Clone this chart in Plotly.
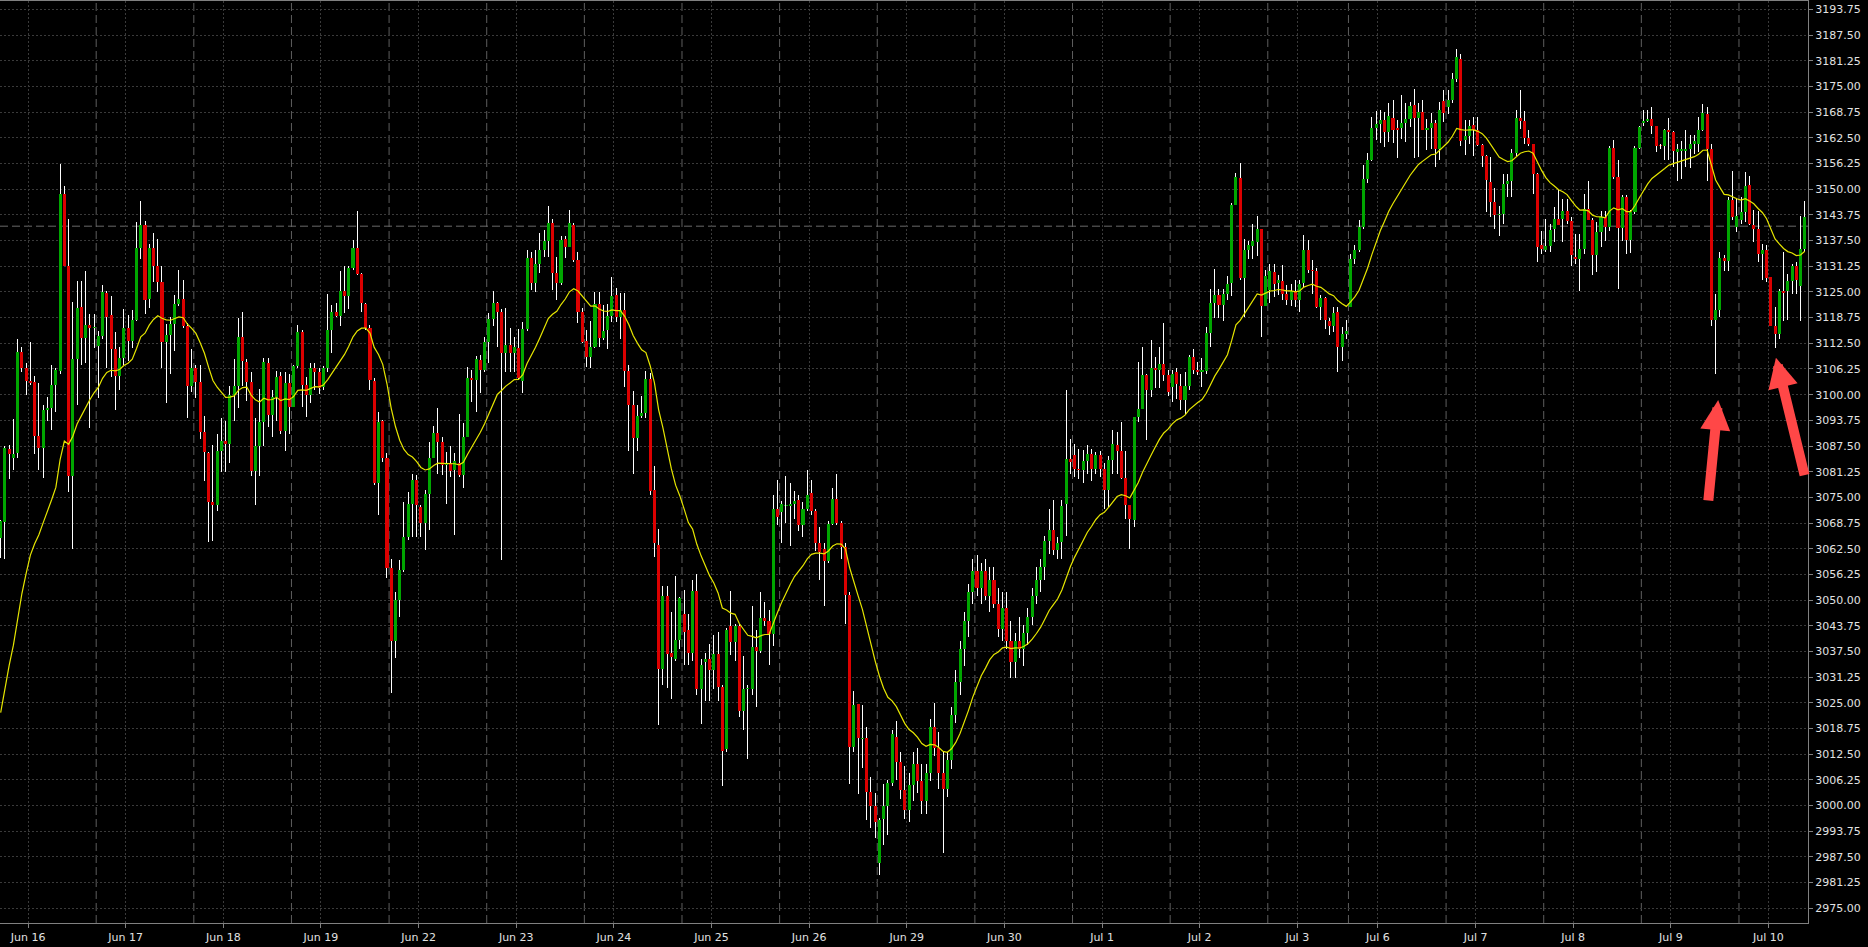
import plotly.graph_objects as go

# ---------------- data (hourly candles, 23 per regular session) ----------------
day_labels = ["Jun 16", "Jun 17", "Jun 18", "Jun 19", "Jun 22", "Jun 23", "Jun 24",
              "Jun 25", "Jun 26", "Jun 29", "Jun 30", "Jul 1", "Jul 2", "Jul 3",
              "Jul 6", "Jul 7", "Jul 8", "Jul 9", "Jul 10"]
day_sizes = [23] * 13 + [19] + [23] * 4 + [16]

opens = [
    # Jun 16
    3065.2, 3069.0, 3086.7, 3084.7, 3085.9, 3110.4, 3106.4, 3103.3, 3103.0, 3090.0, 3086.9, 3096.2,
    3096.7, 3102.4, 3105.8, 3148.8, 3131.4, 3080.3, 3108.6, 3121.3, 3113.7, 3117.0, 3116.2,
    # Jun 17
    3111.9, 3114.2, 3124.8, 3119.5, 3111.0, 3104.6, 3108.9, 3116.3, 3113.1, 3118.1, 3135.7, 3141.3,
    3123.3, 3135.7, 3131.4, 3127.5, 3112.9, 3114.6, 3117.2, 3122.0, 3123.3, 3116.8, 3102.0,
    # Jun 18
    3106.6, 3103.2, 3090.9, 3085.9, 3073.8, 3073.2, 3086.2, 3088.7, 3088.0, 3100.0, 3102.2, 3114.0,
    3108.0, 3103.0, 3081.4, 3087.6, 3093.3, 3107.7, 3095.1, 3099.5, 3104.5, 3091.1, 3102.9,
    # Jun 19
    3096.9, 3106.9, 3115.3, 3102.3, 3099.9, 3106.4, 3105.6, 3101.9, 3106.4, 3115.7, 3120.2, 3119.2,
    3125.2, 3124.0, 3130.8, 3135.6, 3129.3, 3122.1, 3116.2, 3103.4, 3078.4, 3093.6, 3084.7,
    # Jun 22
    3057.7, 3040.0, 3050.0, 3057.3, 3065.4, 3073.5, 3079.2, 3072.7, 3068.8, 3075.8, 3084.5, 3090.6,
    3088.4, 3082.9, 3083.3, 3081.7, 3083.4, 3080.4, 3089.6, 3104.0, 3103.6, 3108.4, 3106.0,
    # Jun 23
    3112.7, 3118.3, 3122.4, 3120.2, 3110.2, 3112.1, 3110.2, 3111.3, 3103.4, 3115.9, 3133.2, 3127.1,
    3131.8, 3135.2, 3137.5, 3141.7, 3129.5, 3127.1, 3137.8, 3136.0, 3141.3, 3132.8, 3120.0,
    # Jun 24
    3113.1, 3109.1, 3111.5, 3122.1, 3113.7, 3115.7, 3119.2, 3124.3, 3118.9, 3120.7, 3105.8, 3097.6,
    3089.4, 3094.9, 3095.5, 3103.9, 3076.9, 3063.5, 3033.2, 3051.0, 3037.2, 3035.6, 3040.4,
    # Jun 25
    3046.6, 3042.8, 3037.2, 3052.2, 3028.4, 3034.9, 3035.6, 3033.0, 3037.0, 3028.9, 3013.7, 3043.8,
    3039.7, 3043.8, 3023.1, 3028.3, 3028.4, 3038.5, 3037.5, 3045.7, 3044.9, 3041.8, 3072.1,
    # Jun 26
    3071.4, 3072.8, 3072.8, 3073.4, 3074.3, 3068.3, 3072.1, 3076.0, 3071.8, 3064.0, 3062.5, 3059.4,
    3068.6, 3074.7, 3068.8, 3063.0, 3051.3, 3014.2, 3024.7, 3016.1, 3016.4, 3003.2, 3000.0,
    # Jun 29
    2986.1, 2996.7, 3000.0, 3005.5, 3016.8, 3010.6, 3003.9, 2999.0, 3005.0, 3010.0, 3006.0, 3001.0,
    3008.0, 3019.0, 3014.0, 3008.0, 3004.0, 3011.0, 3022.0, 3030.0, 3038.0, 3045.0, 3052.0,
    # Jun 30
    3057.0, 3053.0, 3057.0, 3051.0, 3055.0, 3049.0, 3043.0, 3048.0, 3040.0, 3035.0, 3040.0, 3038.0,
    3042.0, 3046.0, 3051.0, 3055.0, 3058.0, 3064.5, 3067.1, 3062.3, 3064.1, 3073.4, 3084.4,
    # Jul 1
    3085.2, 3082.0, 3081.6, 3083.8, 3085.5, 3082.0, 3085.2, 3082.0, 3076.7, 3084.2, 3087.7, 3086.3,
    3079.8, 3073.1, 3069.6, 3094.6, 3096.6, 3104.9, 3101.2, 3106.5, 3106.1, 3107.5, 3104.9,
    # Jul 2
    3101.9, 3105.4, 3102.0, 3098.6, 3102.0, 3109.2, 3106.1, 3105.5, 3105.8, 3114.9, 3122.2, 3124.2,
    3121.8, 3124.6, 3127.2, 3146.1, 3152.8, 3128.5, 3135.3, 3136.1, 3137.2, 3140.2, 3121.5,
    # Jul 3 (short session)
    3125.4, 3129.9, 3127.2, 3127.7, 3124.4, 3123.1, 3125.2, 3123.1, 3127.2, 3135.1, 3130.4, 3130.1,
    3121.4, 3123.6, 3117.9, 3116.6, 3120.1, 3111.6, 3114.7,
    # Jul 6
    3121.4, 3133.1, 3135.1, 3140.7, 3152.6, 3157.2, 3165.0, 3165.8, 3166.8, 3164.0, 3167.4, 3165.0,
    3165.0, 3166.0, 3167.2, 3170.4, 3167.4, 3168.8, 3164.4, 3164.8, 3166.0, 3159.7, 3171.5,
    # Jul 7
    3170.1, 3171.8, 3176.9, 3181.8, 3161.9, 3162.9, 3165.6, 3164.5, 3160.7, 3158.0, 3151.8, 3146.9,
    3143.7, 3143.9, 3151.3, 3151.9, 3158.8, 3167.4, 3166.6, 3162.5, 3160.9, 3153.7, 3136.3,
    # Jul 8
    3135.3, 3136.1, 3140.3, 3142.8, 3142.8, 3144.8, 3142.2, 3133.6, 3133.0, 3135.5, 3145.2, 3142.5,
    3133.9, 3139.5, 3143.2, 3140.9, 3160.1, 3152.9, 3140.6, 3148.0, 3137.7, 3144.4, 3160.1,
    # Jul 9
    3166.1, 3166.5, 3167.1, 3165.3, 3160.6, 3160.6, 3164.3, 3163.9, 3159.0, 3159.4, 3159.4, 3159.8,
    3161.0, 3161.0, 3164.3, 3168.2, 3159.8, 3118.2, 3120.6, 3133.3, 3132.6, 3147.4, 3140.8,
    # Jul 10
    3142.4, 3144.4, 3151.1, 3141.2, 3140.3, 3134.3, 3135.1, 3128.6, 3116.8, 3114.8, 3125.2, 3125.2,
    3127.6, 3131.2, 3126.5, 3135.5,
]

highs = [
    # Jun 16
    3069.6, 3087.4, 3087.8, 3094.0, 3113.5, 3111.7, 3107.7, 3112.8, 3104.6, 3102.9, 3097.5, 3099.5,
    3107.3, 3106.4, 3156.2, 3150.7, 3142.8, 3122.5, 3127.7, 3127.7, 3130.1, 3119.7, 3119.7,
    # Jun 17
    3115.5, 3126.6, 3125.2, 3124.1, 3115.3, 3111.7, 3120.9, 3119.5, 3120.6, 3141.9, 3147.2, 3142.3,
    3136.6, 3139.4, 3137.9, 3131.2, 3117.2, 3119.0, 3124.3, 3130.3, 3127.9, 3117.5, 3111.0,
    # Jun 18
    3107.3, 3107.3, 3094.7, 3086.0, 3087.8, 3090.5, 3094.2, 3093.6, 3102.0, 3108.6, 3118.6, 3120.2,
    3108.6, 3105.5, 3094.2, 3101.3, 3108.9, 3108.9, 3101.1, 3105.7, 3105.4, 3105.5, 3105.1,
    # Jun 19
    3107.3, 3117.0, 3115.7, 3104.4, 3107.6, 3107.6, 3106.4, 3107.0, 3124.5, 3121.8, 3122.2, 3130.2,
    3131.3, 3131.3, 3137.7, 3144.8, 3129.5, 3122.2, 3117.0, 3104.0, 3095.9, 3093.8, 3085.7,
    # Jun 22
    3060.0, 3052.0, 3059.7, 3073.9, 3076.4, 3080.8, 3080.4, 3073.1, 3076.8, 3088.4, 3092.4, 3096.7,
    3089.8, 3086.1, 3087.5, 3085.7, 3095.3, 3093.0, 3106.8, 3106.0, 3109.3, 3109.7, 3114.1,
    # Jun 23
    3119.8, 3125.2, 3122.6, 3120.9, 3121.0, 3116.2, 3114.0, 3115.9, 3117.8, 3135.1, 3134.8, 3135.2,
    3139.3, 3140.1, 3145.8, 3142.7, 3133.6, 3138.5, 3138.5, 3145.0, 3141.7, 3134.8, 3121.0,
    # Jun 24
    3115.7, 3118.0, 3125.1, 3125.1, 3121.8, 3122.1, 3128.6, 3126.0, 3124.7, 3124.7, 3107.2, 3101.0,
    3097.6, 3099.7, 3105.8, 3105.3, 3082.7, 3067.3, 3053.4, 3053.4, 3047.1, 3055.8, 3050.7,
    # Jun 25
    3052.4, 3046.6, 3054.8, 3056.3, 3035.6, 3037.2, 3039.4, 3041.4, 3042.3, 3029.4, 3043.3, 3052.2,
    3044.3, 3044.3, 3036.5, 3029.3, 3048.6, 3042.8, 3051.9, 3049.5, 3047.6, 3075.5, 3079.3,
    # Jun 26
    3074.0, 3080.1, 3078.4, 3076.5, 3075.5, 3073.8, 3081.7, 3079.3, 3072.1, 3067.8, 3064.0, 3069.2,
    3077.4, 3080.8, 3069.2, 3064.0, 3051.9, 3027.9, 3024.7, 3024.5, 3019.2, 3007.0, 3003.0,
    # Jun 29
    2997.0, 3005.3, 3006.3, 3018.3, 3020.7, 3013.0, 3009.6, 3008.0, 3013.0, 3014.0, 3010.0, 3010.0,
    3021.0, 3025.0, 3018.0, 3013.0, 3013.0, 3024.0, 3033.0, 3040.0, 3047.0, 3054.0, 3060.0,
    # Jun 30
    3061.0, 3059.0, 3060.0, 3058.0, 3058.0, 3053.0, 3052.0, 3052.0, 3045.0, 3042.0, 3046.0, 3044.0,
    3048.0, 3053.0, 3058.0, 3060.0, 3065.7, 3072.2, 3074.3, 3065.3, 3074.3, 3101.1, 3089.3,
    # Jul 1
    3088.1, 3086.8, 3086.6, 3087.7, 3086.8, 3086.0, 3086.3, 3083.4, 3085.0, 3091.3, 3090.9, 3093.3,
    3086.4, 3073.1, 3094.6, 3107.9, 3111.6, 3105.1, 3113.4, 3109.2, 3111.6, 3117.4, 3106.1,
    # Jul 2
    3105.9, 3106.6, 3105.1, 3105.5, 3109.6, 3111.0, 3108.0, 3108.8, 3116.5, 3125.8, 3130.7, 3125.8,
    3125.8, 3128.8, 3146.7, 3154.0, 3156.4, 3138.0, 3137.4, 3141.6, 3143.4, 3140.4, 3130.3,
    # Jul 3
    3131.7, 3131.7, 3129.1, 3131.5, 3126.6, 3127.0, 3127.8, 3127.8, 3138.8, 3137.6, 3132.7, 3130.9,
    3124.2, 3123.8, 3118.7, 3121.4, 3121.4, 3116.5, 3118.1,
    # Jul 6
    3134.3, 3136.4, 3142.5, 3155.8, 3158.8, 3167.5, 3169.1, 3169.2, 3168.8, 3171.0, 3171.7, 3166.8,
    3172.9, 3170.9, 3171.3, 3174.5, 3170.9, 3171.8, 3167.0, 3168.6, 3166.8, 3171.3, 3174.1,
    # Jul 7
    3174.1, 3178.3, 3184.0, 3183.0, 3166.8, 3166.8, 3167.5, 3167.5, 3161.1, 3158.3, 3157.9, 3150.2,
    3146.0, 3153.7, 3153.7, 3159.8, 3169.3, 3174.2, 3169.0, 3164.5, 3161.0, 3153.9, 3139.9,
    # Jul 8
    3142.8, 3141.6, 3145.6, 3149.7, 3147.6, 3147.6, 3143.2, 3139.1, 3139.1, 3148.9, 3151.9, 3143.0,
    3142.0, 3144.8, 3144.8, 3160.6, 3162.0, 3157.0, 3148.5, 3148.5, 3145.0, 3160.4, 3165.5,
    # Jul 9
    3169.2, 3169.3, 3170.0, 3165.5, 3161.0, 3164.7, 3167.4, 3164.1, 3161.0, 3161.7, 3164.5, 3163.1,
    3163.3, 3167.5, 3170.8, 3170.0, 3161.0, 3124.4, 3134.7, 3133.9, 3148.2, 3154.4, 3147.6,
    # Jul 10
    3148.2, 3154.1, 3153.3, 3145.0, 3144.8, 3136.7, 3136.3, 3128.7, 3121.3, 3125.7, 3134.7, 3129.4,
    3131.8, 3132.2, 3143.6, 3147.2,
]

lows = [
    # Jun 16
    3060.3, 3059.9, 3079.4, 3081.6, 3084.7, 3105.5, 3099.8, 3102.4, 3085.6, 3081.6, 3079.8, 3093.6,
    3091.3, 3095.8, 3105.1, 3131.2, 3076.3, 3062.5, 3097.5, 3107.3, 3107.7, 3091.8, 3111.3,
    # Jun 17
    3099.3, 3113.5, 3106.4, 3104.2, 3096.2, 3101.1, 3107.3, 3108.2, 3111.3, 3117.9, 3133.0, 3119.7,
    3121.0, 3127.3, 3125.0, 3106.4, 3098.0, 3105.1, 3110.6, 3121.5, 3116.2, 3094.4, 3100.6,
    # Jun 18
    3099.3, 3089.1, 3078.9, 3064.1, 3064.3, 3071.7, 3081.2, 3081.2, 3083.4, 3093.6, 3096.7, 3102.2,
    3098.4, 3080.3, 3073.2, 3080.3, 3087.4, 3092.2, 3089.6, 3093.6, 3090.5, 3086.2, 3090.5,
    # Jun 19
    3096.9, 3106.4, 3097.1, 3094.6, 3097.9, 3101.1, 3100.2, 3101.1, 3105.6, 3110.1, 3119.0, 3116.7,
    3119.8, 3120.8, 3130.4, 3129.1, 3120.0, 3115.7, 3101.1, 3078.0, 3070.7, 3083.7, 3055.3,
    # Jun 22
    3027.4, 3036.0, 3046.0, 3056.9, 3064.6, 3065.4, 3065.4, 3065.4, 3062.2, 3067.0, 3084.5, 3080.8,
    3080.4, 3073.5, 3079.9, 3065.8, 3080.0, 3077.2, 3089.6, 3098.3, 3095.9, 3100.3, 3105.6,
    # Jun 23
    3107.6, 3116.6, 3111.7, 3059.7, 3105.6, 3105.6, 3105.6, 3103.6, 3100.5, 3115.5, 3125.5, 3125.1,
    3129.5, 3133.6, 3133.6, 3125.5, 3123.0, 3126.7, 3133.2, 3135.9, 3132.4, 3117.4, 3112.5,
    # Jun 24
    3106.8, 3106.4, 3111.3, 3111.7, 3113.3, 3111.1, 3117.8, 3117.8, 3113.5, 3101.9, 3086.3, 3080.8,
    3086.3, 3094.2, 3094.2, 3075.5, 3060.6, 3019.7, 3029.3, 3028.6, 3026.0, 3035.1, 3038.0,
    # Jun 25
    3034.1, 3034.1, 3035.1, 3026.9, 3019.9, 3025.5, 3025.5, 3028.4, 3025.5, 3004.8, 3013.0, 3036.6,
    3035.1, 3021.6, 3018.3, 3011.3, 3027.0, 3024.1, 3037.2, 3043.8, 3034.1, 3038.9, 3068.3,
    # Jun 26
    3064.0, 3068.8, 3063.2, 3069.7, 3066.8, 3065.4, 3071.6, 3070.7, 3062.0, 3054.8, 3048.6, 3059.1,
    3068.3, 3068.3, 3060.1, 3044.3, 3005.3, 3013.0, 3002.9, 3009.1, 2996.6, 2994.5, 2992.0,
    # Jun 29
    2983.2, 2990.4, 2992.8, 3004.8, 3006.3, 3001.5, 2996.7, 2996.0, 3001.0, 3003.0, 2998.0, 2998.0,
    3006.0, 3012.0, 3004.0, 2988.5, 3002.0, 3009.0, 3020.0, 3027.0, 3034.0, 3041.0, 3049.0,
    # Jun 30
    3051.0, 3049.0, 3050.0, 3047.0, 3048.0, 3041.0, 3040.0, 3038.0, 3031.0, 3031.0, 3036.0, 3034.0,
    3039.0, 3044.0, 3049.0, 3052.0, 3055.0, 3061.3, 3060.9, 3059.9, 3059.9, 3065.7, 3080.8,
    # Jul 1
    3080.0, 3079.5, 3078.5, 3080.8, 3079.1, 3080.8, 3080.0, 3072.2, 3072.6, 3080.8, 3080.8, 3079.5,
    3069.8, 3062.5, 3067.9, 3093.3, 3096.6, 3088.9, 3099.4, 3101.5, 3101.5, 3103.3, 3099.6,
    # Jul 2
    3098.2, 3099.0, 3096.2, 3095.2, 3101.2, 3105.0, 3104.7, 3101.9, 3105.1, 3111.6, 3118.7, 3118.7,
    3117.9, 3123.0, 3123.9, 3146.1, 3128.0, 3118.9, 3133.1, 3133.1, 3133.7, 3114.0, 3121.5,
    # Jul 3
    3122.2, 3123.8, 3124.2, 3123.0, 3121.8, 3121.5, 3121.4, 3120.1, 3126.2, 3129.5, 3124.6, 3121.0,
    3118.1, 3116.1, 3114.4, 3115.3, 3105.5, 3108.2, 3113.6,
    # Jul 6
    3121.4, 3131.9, 3134.7, 3140.4, 3151.4, 3156.9, 3162.0, 3161.3, 3160.2, 3161.5, 3161.3, 3157.7,
    3162.3, 3161.5, 3165.2, 3157.5, 3157.9, 3164.4, 3159.5, 3159.7, 3155.4, 3157.1, 3166.4,
    # Jul 7
    3168.4, 3170.9, 3176.1, 3160.5, 3158.3, 3161.0, 3158.0, 3160.5, 3155.4, 3144.5, 3143.3, 3140.4,
    3138.5, 3141.6, 3148.0, 3148.0, 3158.2, 3164.7, 3161.0, 3160.6, 3148.9, 3132.2, 3134.3,
    # Jul 8
    3134.7, 3134.7, 3137.1, 3141.2, 3137.1, 3141.6, 3131.2, 3131.7, 3125.3, 3134.3, 3142.4, 3129.0,
    3129.8, 3135.9, 3137.5, 3139.9, 3152.5, 3125.7, 3137.5, 3134.3, 3134.4, 3144.0, 3159.8,
    # Jul 9
    3165.5, 3166.3, 3163.5, 3159.0, 3159.8, 3157.1, 3157.1, 3155.4, 3152.1, 3152.5, 3155.4, 3155.2,
    3158.6, 3159.0, 3164.1, 3152.1, 3116.6, 3105.0, 3118.8, 3130.2, 3130.2, 3142.4, 3139.5,
    # Jul 10
    3141.6, 3142.0, 3141.2, 3137.1, 3132.2, 3127.8, 3127.4, 3116.8, 3111.4, 3113.6, 3118.0, 3118.2,
    3124.5, 3124.5, 3117.9, 3134.7,
]

closes = [
    # Jun 16
    3069.2, 3086.9, 3085.6, 3085.6, 3110.4, 3106.4, 3103.3, 3102.9, 3090.0, 3086.9, 3096.2, 3096.7,
    3102.4, 3106.0, 3148.8, 3131.4, 3080.3, 3108.6, 3121.0, 3113.7, 3117.0, 3116.2, 3116.4,
    # Jun 17
    3114.2, 3125.0, 3119.0, 3111.0, 3104.6, 3108.9, 3116.3, 3113.1, 3118.1, 3135.7, 3141.3, 3123.1,
    3135.7, 3131.4, 3127.5, 3112.9, 3114.6, 3117.2, 3122.0, 3123.3, 3116.8, 3102.0, 3106.6,
    # Jun 18
    3103.2, 3090.9, 3086.0, 3073.8, 3073.2, 3086.2, 3088.7, 3088.0, 3100.0, 3102.2, 3114.0, 3108.2,
    3103.0, 3081.4, 3087.6, 3093.3, 3107.9, 3095.1, 3099.5, 3104.2, 3091.1, 3102.9, 3096.9,
    # Jun 19
    3106.9, 3115.3, 3102.4, 3099.9, 3106.4, 3105.6, 3101.5, 3106.4, 3115.7, 3120.2, 3119.2, 3125.2,
    3124.0, 3130.8, 3135.6, 3129.3, 3122.4, 3116.2, 3103.6, 3078.4, 3093.4, 3084.7, 3057.7,
    # Jun 22
    3040.0, 3050.0, 3057.3, 3065.4, 3073.5, 3079.2, 3073.1, 3068.8, 3075.8, 3084.5, 3090.6, 3088.5,
    3082.9, 3083.3, 3081.5, 3083.9, 3080.4, 3089.6, 3104.0, 3103.6, 3108.6, 3106.0, 3112.7,
    # Jun 23
    3118.3, 3122.4, 3120.2, 3110.2, 3112.1, 3110.2, 3111.5, 3104.0, 3115.9, 3133.2, 3127.1, 3131.8,
    3135.2, 3137.5, 3141.7, 3129.5, 3127.1, 3137.7, 3136.0, 3141.7, 3132.8, 3120.0, 3112.9,
    # Jun 24
    3109.1, 3111.5, 3122.1, 3113.7, 3115.6, 3119.2, 3124.0, 3118.9, 3120.7, 3105.8, 3097.6, 3089.4,
    3094.9, 3095.5, 3103.9, 3076.6, 3064.0, 3033.2, 3051.0, 3037.0, 3036.1, 3040.4, 3050.5,
    # Jun 25
    3042.3, 3037.2, 3052.2, 3028.4, 3034.1, 3035.6, 3033.0, 3037.0, 3028.9, 3013.2, 3042.8, 3039.7,
    3043.8, 3023.1, 3028.4, 3028.6, 3038.7, 3037.5, 3045.7, 3044.9, 3041.8, 3072.1, 3070.2,
    # Jun 26
    3073.4, 3072.9, 3073.4, 3074.0, 3068.3, 3072.1, 3075.7, 3071.8, 3064.0, 3061.8, 3059.4, 3068.6,
    3074.7, 3068.8, 3063.0, 3051.3, 3014.2, 3024.5, 3016.4, 3016.4, 3003.2, 3000.0, 2996.0,
    # Jun 29
    2996.5, 3000.0, 3005.5, 3017.3, 3010.6, 3003.9, 2999.0, 3005.0, 3010.0, 3006.0, 3001.0, 3008.0,
    3019.0, 3014.0, 3008.0, 3004.0, 3011.0, 3022.0, 3030.0, 3038.0, 3045.0, 3052.0, 3057.0,
    # Jun 30
    3053.0, 3057.0, 3051.0, 3055.0, 3049.0, 3043.0, 3048.0, 3040.0, 3035.0, 3040.0, 3038.0, 3042.0,
    3046.0, 3051.0, 3055.0, 3058.0, 3064.5, 3067.1, 3062.3, 3063.9, 3073.0, 3084.4, 3083.6,
    # Jul 1
    3082.0, 3081.6, 3083.8, 3085.5, 3082.0, 3085.2, 3082.0, 3076.7, 3084.2, 3087.9, 3086.3, 3079.8,
    3073.1, 3069.8, 3094.6, 3096.6, 3104.7, 3101.2, 3106.5, 3106.1, 3107.5, 3104.9, 3100.6,
    # Jul 2
    3105.1, 3102.5, 3098.6, 3102.0, 3109.2, 3106.1, 3105.5, 3105.9, 3114.9, 3122.2, 3124.2, 3121.8,
    3124.6, 3127.0, 3146.1, 3153.0, 3128.5, 3135.3, 3136.4, 3137.4, 3140.4, 3121.5, 3128.8,
    # Jul 3
    3130.1, 3127.0, 3127.8, 3124.4, 3123.1, 3125.2, 3123.1, 3127.0, 3135.1, 3130.4, 3130.1, 3121.4,
    3123.6, 3118.1, 3116.6, 3119.9, 3111.6, 3114.7, 3115.5,
    # Jul 6
    3133.1, 3135.1, 3140.7, 3152.6, 3157.2, 3165.0, 3165.8, 3166.8, 3164.0, 3167.8, 3164.5, 3164.5,
    3166.0, 3167.2, 3170.2, 3167.4, 3168.8, 3164.5, 3164.8, 3166.0, 3159.7, 3169.2, 3168.6,
    # Jul 7
    3171.8, 3176.9, 3182.2, 3161.8, 3162.9, 3165.3, 3164.5, 3160.7, 3158.0, 3152.2, 3146.9, 3143.7,
    3143.9, 3151.3, 3152.1, 3158.8, 3167.4, 3166.6, 3162.5, 3161.0, 3153.7, 3135.9, 3135.5,
    # Jul 8
    3136.1, 3140.1, 3142.8, 3141.2, 3144.8, 3142.2, 3133.9, 3133.0, 3135.5, 3145.2, 3142.5, 3133.9,
    3139.5, 3143.2, 3140.9, 3160.1, 3152.9, 3140.6, 3148.0, 3137.7, 3144.4, 3160.1, 3165.1,
    # Jul 9
    3166.5, 3167.1, 3165.3, 3160.6, 3160.4, 3164.3, 3163.9, 3159.4, 3159.8, 3159.8, 3159.8, 3161.0,
    3161.8, 3164.3, 3168.5, 3159.8, 3118.2, 3120.6, 3133.3, 3132.6, 3147.4, 3143.2, 3143.6,
    # Jul 10
    3144.4, 3150.9, 3141.6, 3140.3, 3134.3, 3135.1, 3128.4, 3116.8, 3114.8, 3125.3, 3124.8, 3127.6,
    3131.2, 3127.8, 3135.5, 3143.3,
]

ma_first = 3022.6       # moving-average level at the first visible candle
ma_period = 20          # exponential moving average period
price_line = 3141.0     # dashed current-price line

# ---------------- derived positions ----------------
n = sum(day_sizes)
assert len(opens) == len(highs) == len(lows) == len(closes) == n
idx = list(range(n))
starts, s = [], 0
for d in day_sizes:
    starts.append(s)
    s += d
label_pos = [st + 6.45 for st in starts]
sep_pos = [st - 0.5 for st in starts[1:]]

# wicks (drawn only outside the body)
wx, wy = [], []
for i in idx:
    top = max(opens[i], closes[i])
    bot = min(opens[i], closes[i])
    wx += [i, i, None, i, i, None]
    wy += [highs[i], top, None, bot, lows[i], None]

up = [i for i in idx if closes[i] >= opens[i]]
dn = [i for i in idx if closes[i] < opens[i]]

alpha = 2.0 / (ma_period + 1)
ma = [ma_first]
for c in closes[1:]:
    ma.append(ma[-1] + alpha * (c - ma[-1]))

GREEN = "#00a600"
RED = "#dc0000"
GRID = "#3a3a3a"
FRAME = "#808080"
TXT = "#e2e2e2"

fig = go.Figure()
fig.add_trace(go.Scatter(x=wx, y=wy, mode="lines", line=dict(color="#ffffff", width=1),
                         hoverinfo="skip", showlegend=False))
fig.add_trace(go.Bar(x=up, y=[max(closes[i] - opens[i], 0.25) for i in up],
                     base=[opens[i] for i in up], width=0.72,
                     marker=dict(color=GREEN, line=dict(width=0)), showlegend=False))
fig.add_trace(go.Bar(x=dn, y=[max(opens[i] - closes[i], 0.25) for i in dn],
                     base=[closes[i] for i in dn], width=0.72,
                     marker=dict(color=RED, line=dict(width=0)), showlegend=False))
fig.add_trace(go.Scatter(x=idx, y=ma, mode="lines", line=dict(color="#e6e600", width=1.2),
                         hoverinfo="skip", showlegend=False))

shapes = []
for xp in sep_pos:
    shapes.append(dict(type="line", xref="x", yref="paper", x0=xp, x1=xp, y0=0, y1=1,
                       line=dict(color="#5e5e5e", width=1, dash="8px,4px"), layer="below"))
shapes.append(dict(type="line", xref="paper", yref="y", x0=0, x1=1, y0=price_line, y1=price_line,
                   line=dict(color="#6a6a6a", width=1, dash="8px,4px"), layer="below"))

arrows = [  # (tip x, tip price, tail dx px, tail dy px)
    (404.6, 3098.7, -10, 102),
    (418.2, 3109.0, 29, 119),
]
annotations = []
for ax_, ay_, dx, dy in arrows:
    annotations.append(dict(x=ax_, y=ay_, xref="x", yref="y", text="", showarrow=True,
                            ax=dx, ay=dy, arrowhead=2, arrowsize=0.6, arrowwidth=10,
                            arrowcolor="#ff4747"))

fig.update_layout(
    width=1868, height=947,
    margin=dict(l=0, r=60, t=1, b=24),
    paper_bgcolor="#000000", plot_bgcolor="#000000",
    barmode="overlay", bargap=0, showlegend=False, hovermode=False,
    shapes=shapes, annotations=annotations,
    font=dict(family="DejaVu Sans", size=11, color=TXT),
)
fig.update_xaxes(range=[-0.16, 425.76], tickmode="array", tickvals=label_pos, ticktext=day_labels,
                 showgrid=True, gridcolor=GRID, griddash="2px,2px", gridwidth=1,
                 showline=True, linecolor=FRAME, linewidth=1, mirror=True,
                 ticks="outside", ticklen=4, tickcolor=FRAME, zeroline=False,
                 tickfont=dict(family="DejaVu Sans", size=11, color=TXT))
fig.update_yaxes(range=[2971.42, 3195.8], side="right", tick0=2975, dtick=6.25, tickformat=".2f",
                 showgrid=True, gridcolor=GRID, griddash="2px,2px", gridwidth=1,
                 showline=True, linecolor=FRAME, linewidth=1, mirror=True,
                 ticks="outside", ticklen=4, tickcolor=FRAME, zeroline=False,
                 tickfont=dict(family="DejaVu Sans", size=11, color=TXT))

post_js = (
    "document.documentElement.style.margin='0';"
    "document.body.style.margin='0';"
    "document.body.style.overflow='hidden';"
    "document.body.style.background='#000000';"
    "var gd=document.getElementById('{plot_id}');"
    "var tr=gd.querySelectorAll('.scatterlayer .trace');"
    "if(tr.length){tr[0].querySelectorAll('path.js-line').forEach(function(p){"
    "p.style.shapeRendering='crispEdges';});}"
)
fig.write_html("out.html", post_script=post_js,
               config={"displayModeBar": False, "staticPlot": True})
